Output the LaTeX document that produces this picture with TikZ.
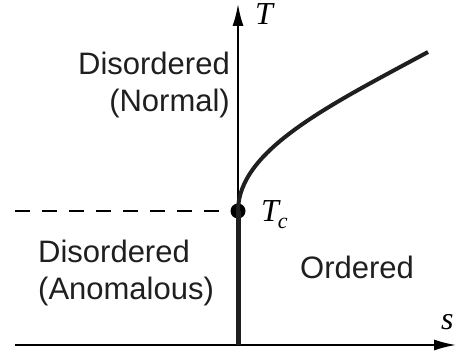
\documentclass[tikz,border=0pt]{standalone}
\usepackage{fontspec}
\setmainfont{Liberation Sans}
\newfontfamily\varfont{Liberation Serif}
\usetikzlibrary{arrows.meta}
\begin{document}
\begin{tikzpicture}[x=1pt,y=-1pt,
  axis/.style={line width=1.8pt, -{Latex[length=22pt,width=11pt]}},
  lab/.style={font=\fontsize{31}{37}\selectfont, inner sep=0pt, text=black!88},
  var/.style={font=\fontsize{32}{32}\varfont\itshape, inner sep=0pt},
  bound/.style={line width=5pt, black!88},
  curve/.style={line width=4pt, black!88},
  dashline/.style={line width=2pt, dash pattern=on 15pt off 12pt}]
\useasboundingbox (0,0) rectangle (458,355);
\coordinate (o) at (238,345);
\coordinate (ytip) at (238,4);
\coordinate (xl) at (15,345);
\coordinate (xtip) at (456,345);
\coordinate (dl) at (15,211);
\coordinate (cend) at (428,52);
\draw[axis] (xl) -- (xtip);
\draw[axis] (o) -- (ytip);
\node[circle, fill=black, inner sep=0pt, minimum size=15pt] (tc) at (238,211) {};
\draw[dashline] (dl) -- (tc.center);
\draw[bound] (tc.center) -- (o);
\draw[curve] (tc.center) .. controls (238,150) and (330,105) .. (cend);
\node[lab, anchor=base east] (dn1) at (230,75) {Disordered};
\node[lab, anchor=base east] (dn2) at (230,112) {(Normal)};
\node[lab, anchor=base west] (da1) at (38,263) {Disordered};
\node[lab, anchor=base west] (da2) at (38,300) {(Anomalous)};
\node[lab, anchor=base west] (ord) at (300,279) {Ordered};
\node[var, anchor=base west] (tl) at (255,25) {T};
\node[var, anchor=base west] (tcl) at (261,222) {T\kern-1pt\raisebox{-7pt}{\fontsize{22}{22}\selectfont c}};
\node[var, anchor=base west] (sl) at (441,330) {s};
\end{tikzpicture}
\end{document}
